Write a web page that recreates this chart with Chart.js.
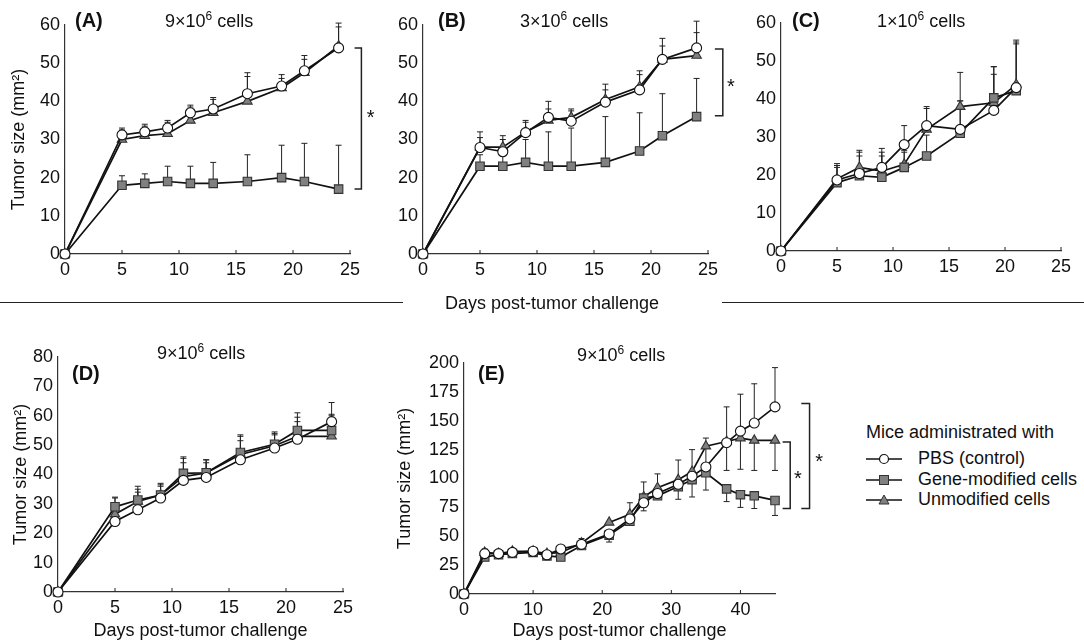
<!DOCTYPE html>
<html>
<head>
<meta charset="utf-8">
<script src="https://cdn.jsdelivr.net/npm/chart.js@4.4.0/dist/chart.umd.min.js"></script>
<style>
  body { margin: 0; background: #fff; width: 1084px; height: 642px; position: relative; overflow: hidden;
         font-family: "Liberation Sans", Arial, sans-serif; color: #111; }
  canvas { position: absolute; }
  .t { position: absolute; white-space: nowrap; font-size: 18px; line-height: 18px; }
  .p { font-weight: bold; font-size: 20px; line-height: 20px; }
  .s { font-size: 12px; position: relative; top: -7px; }
  .rule { position: absolute; height: 0; border-top: 1.5px solid #222; }
  .leg { position: absolute; left: 866px; font-size: 18px; line-height: 18px; white-space: nowrap; }
  .leg svg { vertical-align: middle; margin-right: 16px; }
</style>
</head>
<body>

<canvas id="cA" width="400" height="290" style="left:0;top:0"></canvas>
<canvas id="cB" width="360" height="290" style="left:380px;top:0"></canvas>
<canvas id="cC" width="344" height="290" style="left:740px;top:0"></canvas>
<canvas id="cD" width="360" height="312" style="left:0;top:330px"></canvas>
<canvas id="cE" width="460" height="312" style="left:380px;top:330px"></canvas>

<div class="t p" style="left:75px;top:10px">(A)</div>
<div class="t" style="left:165px;top:12px">9×10<span class="s">6</span> cells</div>
<div class="t p" style="left:438px;top:10px">(B)</div>
<div class="t" style="left:520px;top:12px">3×10<span class="s">6</span> cells</div>
<div class="t p" style="left:792px;top:10px">(C)</div>
<div class="t" style="left:877px;top:12px">1×10<span class="s">6</span> cells</div>
<div class="t p" style="left:72px;top:363px">(D)</div>
<div class="t" style="left:157px;top:344px">9×10<span class="s">6</span> cells</div>
<div class="t p" style="left:478px;top:363px">(E)</div>
<div class="t" style="left:577px;top:346px">9×10<span class="s">6</span> cells</div>

<div class="rule" style="left:0;top:302px;width:403px"></div>
<div class="rule" style="left:722px;top:302px;width:362px"></div>
<div class="t" style="left:445px;top:294px">Days post-tumor challenge</div>

<div class="leg" style="top:423px">Mice administrated with</div>
<div class="leg" style="top:449px"><svg width="36" height="12"><line x1="0" y1="6" x2="36" y2="6" stroke="#111" stroke-width="1.7"/><circle cx="18" cy="6" r="4.5" fill="#fff" stroke="#111" stroke-width="1.2"/></svg>PBS (control)</div>
<div class="leg" style="top:470px"><svg width="36" height="12"><line x1="0" y1="6" x2="36" y2="6" stroke="#111" stroke-width="1.7"/><rect x="13.5" y="1.5" width="9" height="9" fill="#808080" stroke="#333" stroke-width="1"/></svg>Gene-modified cells</div>
<div class="leg" style="top:490px"><svg width="36" height="12"><line x1="0" y1="6" x2="36" y2="6" stroke="#111" stroke-width="1.7"/><polygon points="18,1 23,10 13,10" fill="#808080" stroke="#333" stroke-width="1"/></svg>Unmodified cells</div>

<script>
// days of measurement
var daysABD = [0, 5, 7, 9, 11, 13, 16, 19, 21, 24];
var daysC = [0, 5, 7, 9, 11, 13, 16, 19, 21];
var daysE = [0, 3, 5, 7, 10, 12, 14, 17, 21, 24, 26, 28, 31, 33, 35, 38, 40, 42, 45];

// (A) 9x10^6 cells  - means and error bar ends
var aPbs = [0, 31.2, 32, 33, 37, 38, 42, 44, 48, 54];
var aGene = [0, 18, 18.5, 19, 18.5, 18.5, 19, 20, 19, 17];
var aUnmod = [0, 30, 31, 31.5, 35, 37, 40, 43.5, 47.5, 54.5];
var aPbsErr = [null, 33, 34, 35, 39, 41, 47.5, 47, 52, 60.5];
var aGeneErr = [null, 20.5, 21, 23, 23, 24, 26, 28.5, 29, 28.5];
var aUnmodErr = [null, 32.5, 33.5, 34.5, 38.5, 40.5, 46.5, 46, 51, 59.5];

// (B) 3x10^6 cells
var bPbs = [0, 27.9, 26.8, 31.8, 35.8, 34.8, 39.8, 43, 51, 54];
var bGene = [0, 23, 23, 24, 23, 23, 24, 27, 31, 36];
var bUnmod = [0, 28, 28, 32, 35, 35.8, 40.5, 43.8, 51, 52];
var bPbsErr = [null, 32, 30, 34.5, 40, 37.5, 44.5, 47, 56.5, 61];
var bGeneErr = [null, 26, 26.5, 30, 32, 33, 36, 37, 42, 46];
var bUnmodErr = [null, 30.5, 31, 35, 38, 38, 43, 48, 54.5, 58];

// (C) 1x10^6 cells
var cPbs = [0, 18.7, 20.4, 22, 28, 33, 32, 37, 43];
var cGene = [0, 18, 19.8, 19.4, 22, 25, 31, 40.3, 42.2];
var cUnmod = [0, 19, 22, 21, 22.8, 32, 38, 39, 43.8];
var cPbsErr = [null, 22.5, 26, 27, 33, 38, 39.5, 48.5, 55.5];
var cGeneErr = [null, 22, 25, 25, 26, 30.5, 39.5, 48.5, 54.5];
var cUnmodErr = [null, 23, 26.5, 26, 26.5, 37.5, 47, 46.5, 55];

// (D) 9x10^6 cells
var dPbs = [0, 24, 28, 32, 38, 39, 45, 49, 52, 58];
var dGene = [0, 29, 31.3, 33, 40.4, 40.6, 47.5, 50.3, 55, 55];
var dUnmod = [0, 26.5, 30.8, 33, 39.3, 40.5, 46.8, 49.8, 53, 53];
var dPbsErr = [null, 32, 35, 36.5, 44, 45, 53, 54, 59.5, 64.5];
var dGeneErr = [null, 32.3, 36, 37, 46, 45, 53.5, 54.5, 61, 60];
var dUnmodErr = [null, 30, 34, 36, 45.5, 44, 51.5, 53.5, 58, 60.5];

// (E) 9x10^6 cells, long follow-up
var ePbs = [0, 35, 35, 36, 37, 34, 39, 43, 52, 65, 79, 87, 95, 102, 110, 131, 141, 148, 162];
var eGene = [0, 32, 34, 35, 36, 33, 32, 42, 51, 63, 83, 85, 93, 99, 105, 91, 86, 85, 81];
var eUnmod = [0, 36, 35, 37, 37, 35, 36, 44, 62, 69, 84, 92, 99, 106, 128, 132, 135, 133, 133];
var ePbsErr = [null, null, null, null, null, null, null, null, null, null, 97, 104, 116, 125, 135, 162, 173, 182, 196];
var eGeneErr = [null, null, null, null, null, null, null, null, 45, null, 72, null, 82, 84, 90, 80, 75, 74, 68];
var eUnmodErr = [null, 39, null, null, null, null, null, 48, null, 79, null, null, null, null, null, 107, 108, 107, 107];

// significance brackets (data units)
var bracketsA = [{x0: 25.4, x1: 26.0, top: 54, bot: 17, sx: 26.8, sy: 37}];
var bracketsB = [{x0: 25.6, x1: 26.3, top: 53.7, bot: 36.2, sx: 27.0, sy: 45}];
var bracketsE = [
    {x0: 48.8, x1: 50.0, top: 165, bot: 74, sx: 51.4, sy: 119},
    {x0: 46.1, x1: 47.2, top: 131.6, bot: 74, sx: 48.3, sy: 104}
];

Chart.defaults.font.family = '"Liberation Sans", Arial, sans-serif';
Chart.defaults.font.size = 18;
Chart.defaults.color = '#111';

function pts(days, vals) {
    return days.map(function (d, i) { return {x: d, y: vals[i]}; });
}

function decor(errs, brackets) {
    return {
        id: 'decor',
        beforeDatasetsDraw: function (chart) {
            var ctx = chart.ctx, xs = chart.scales.x, ys = chart.scales.y, area = chart.chartArea;
            ctx.save();
            ctx.strokeStyle = '#222';
            ctx.lineWidth = 1;
            // small inward ticks on the x axis
            xs.ticks.forEach(function (t) {
                var px = xs.getPixelForValue(t.value);
                ctx.beginPath();
                ctx.moveTo(px, area.bottom);
                ctx.lineTo(px, area.bottom - 4);
                ctx.stroke();
            });
            // error bars (one side only)
            chart.data.datasets.forEach(function (ds, i) {
                var ends = errs[i];
                ds.data.forEach(function (p, j) {
                    var e = ends[j];
                    if (e == null) return;
                    var px = xs.getPixelForValue(p.x);
                    var y0 = ys.getPixelForValue(p.y), y1 = ys.getPixelForValue(e);
                    ctx.beginPath();
                    ctx.moveTo(px, y0);
                    ctx.lineTo(px, y1);
                    ctx.moveTo(px - 3, y1);
                    ctx.lineTo(px + 3, y1);
                    ctx.stroke();
                });
            });
            ctx.restore();
        },
        afterDraw: function (chart) {
            var ctx = chart.ctx, xs = chart.scales.x, ys = chart.scales.y;
            ctx.save();
            ctx.strokeStyle = '#222';
            ctx.lineWidth = 1.5;
            ctx.fillStyle = '#111';
            ctx.font = '20px "Liberation Sans", Arial, sans-serif';
            ctx.textAlign = 'center';
            (brackets || []).forEach(function (b) {
                var x0 = xs.getPixelForValue(b.x0), x1 = xs.getPixelForValue(b.x1);
                var yt = ys.getPixelForValue(b.top), yb = ys.getPixelForValue(b.bot);
                ctx.beginPath();
                ctx.moveTo(x0, yt);
                ctx.lineTo(x1, yt);
                ctx.lineTo(x1, yb);
                ctx.lineTo(x0, yb);
                ctx.stroke();
                ctx.fillText('*', xs.getPixelForValue(b.sx), ys.getPixelForValue(b.sy) + 11);
            });
            ctx.restore();
        }
    };
}

function makePanel(id, p) {
    var series = [
        {label: 'PBS (control)', vals: p.pbs, style: 'circle', r: 5, fill: '#fff', edge: '#111'},
        {label: 'Gene-modified cells', vals: p.gene, style: 'rect', r: 6, fill: '#808080', edge: '#333'},
        {label: 'Unmodified cells', vals: p.unmod, style: 'triangle', r: 5.5, fill: '#808080', edge: '#333'}
    ];
    var datasets = series.map(function (s) {
        return {
            label: s.label,
            data: pts(p.days, s.vals),
            borderColor: '#111',
            borderWidth: 1.7,
            pointStyle: s.style,
            pointRadius: s.r,
            pointBackgroundColor: s.fill,
            pointBorderColor: s.edge,
            pointBorderWidth: 1.1,
            tension: 0,
            clip: false
        };
    });
    var xTitle = p.xTitle ? {display: true, text: 'Days post-tumor challenge', padding: 0, font: {size: 18}} : {display: false};
    var yTitle = p.yTitle ? {display: true, text: 'Tumor size (mm²)', padding: {top: p.yTitlePad, bottom: 0}, font: {size: 18}} : {display: false};

    return new Chart(document.getElementById(id), {
        type: 'line',
        data: {datasets: datasets},
        options: {
            responsive: false,
            animation: false,
            devicePixelRatio: 1,
            layout: {padding: p.pad},
            scales: {
                x: {
                    type: 'linear', min: 0, max: p.xMax,
                    ticks: {stepSize: p.xStep, padding: 5, maxRotation: 0, autoSkip: false, includeBounds: false, color: '#111'},
                    grid: {display: false, drawTicks: false},
                    border: {display: true, color: '#333', width: 1.2},
                    title: xTitle,
                    afterFit: function (s) { s.height = p.xH; s.paddingLeft = 0; s.paddingRight = 0; }
                },
                y: {
                    min: 0, max: p.yMax,
                    ticks: {stepSize: p.yStep, padding: 5, color: '#111'},
                    grid: {display: false, drawTicks: false},
                    border: {display: true, color: '#333', width: 1.2},
                    title: yTitle,
                    afterFit: function (s) { s.width = p.yW; s.paddingTop = 0; s.paddingBottom = 0; }
                }
            },
            plugins: {legend: {display: false}, tooltip: {enabled: false}}
        },
        plugins: [decor(p.errs, p.brackets)]
    });
}

makePanel('cA', {
    days: daysABD, pbs: aPbs, gene: aGene, unmod: aUnmod, errs: [aPbsErr, aGeneErr, aUnmodErr],
    xMax: 25, xStep: 5, yMax: 60, yStep: 10, yW: 65, xH: 30,
    pad: {left: 0, top: 25, right: 50, bottom: 6},
    yTitle: true, yTitlePad: 8, brackets: bracketsA
});
makePanel('cB', {
    days: daysABD, pbs: bPbs, gene: bGene, unmod: bUnmod, errs: [bPbsErr, bGeneErr, bUnmodErr],
    xMax: 25, xStep: 5, yMax: 60, yStep: 10, yW: 43, xH: 30,
    pad: {left: 0, top: 25, right: 32, bottom: 6},
    brackets: bracketsB
});
makePanel('cC', {
    days: daysC, pbs: cPbs, gene: cGene, unmod: cUnmod, errs: [cPbsErr, cGeneErr, cUnmodErr],
    xMax: 25, xStep: 5, yMax: 60, yStep: 10, yW: 41, xH: 30,
    pad: {left: 0, top: 23, right: 23, bottom: 9}
});
makePanel('cD', {
    days: daysABD, pbs: dPbs, gene: dGene, unmod: dUnmod, errs: [dPbsErr, dGeneErr, dUnmodErr],
    xMax: 25, xStep: 5, yMax: 80, yStep: 10, yW: 58, xH: 50,
    pad: {left: 0, top: 27, right: 17, bottom: 0},
    yTitle: true, yTitlePad: 10, xTitle: true
});
makePanel('cE', {
    days: daysE, pbs: ePbs, gene: eGene, unmod: eUnmod, errs: [ePbsErr, eGeneErr, eUnmodErr],
    xMax: 45, xStep: 10, yMax: 200, yStep: 25, yW: 84, xH: 48,
    pad: {left: 0, top: 33, right: 65, bottom: 0},
    yTitle: true, yTitlePad: 14, xTitle: true, brackets: bracketsE
});
</script>
</body>
</html>
